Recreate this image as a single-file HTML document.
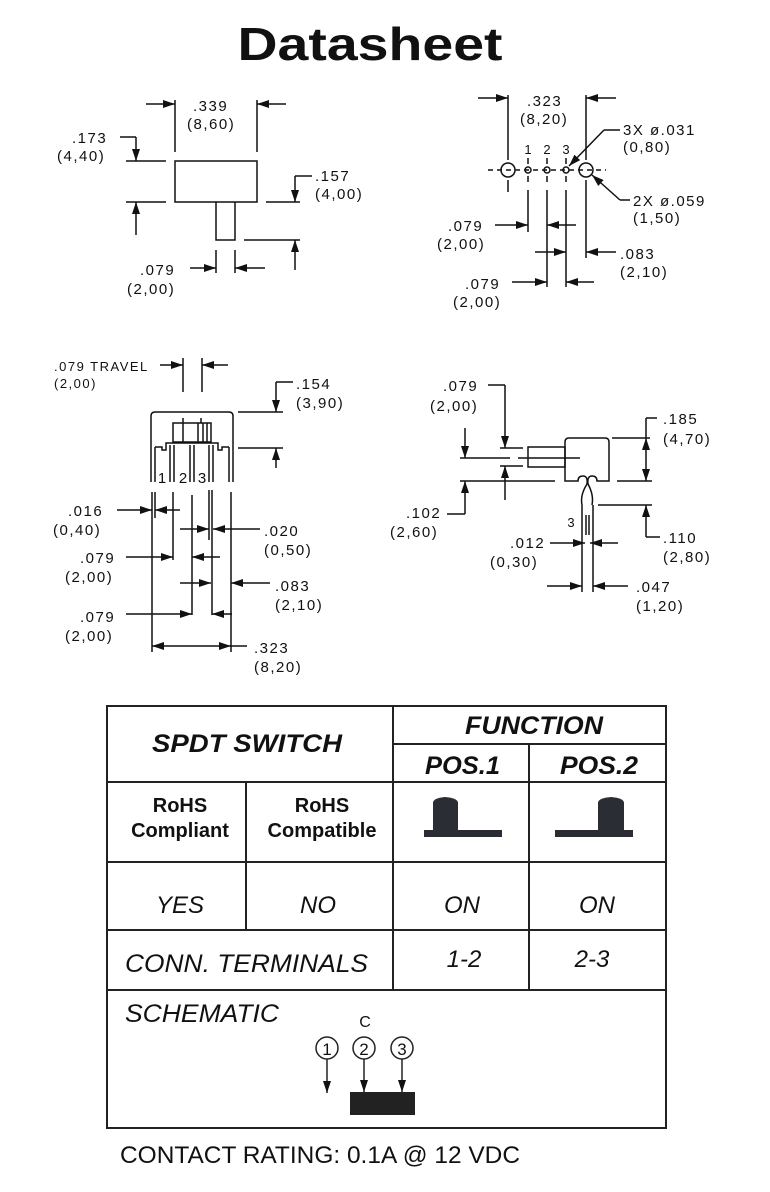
<!DOCTYPE html>
<html><head><meta charset="utf-8"><style>
html,body{margin:0;padding:0;background:#fff;}
svg{display:block;}
.d{font-family:"Liberation Sans",sans-serif;font-size:15px;letter-spacing:1.5px;fill:#111;}
.s{font-family:"Liberation Sans",sans-serif;font-size:13px;fill:#111;}
.t{font-family:"Liberation Sans",sans-serif;fill:#111;}
</style></head><body>
<svg width="770" height="1192" viewBox="0 0 770 1192" xmlns="http://www.w3.org/2000/svg">
<defs>
<marker id="a" markerWidth="12" markerHeight="8" refX="12" refY="4" orient="auto" markerUnits="userSpaceOnUse"><path d="M0,0 L12,4 L0,8z" fill="#111"/></marker>
</defs>
<text x="370" y="60" text-anchor="middle" class="t" font-weight="bold" font-size="46" textLength="265" lengthAdjust="spacingAndGlyphs">Datasheet</text>

<g stroke="#111" stroke-width="1.5" fill="none">
<rect x="175" y="161" width="82" height="41"/>
<path d="M216,202 V240 H235 V202"/>
<path d="M175,100 V152 M257,100 V152"/>
<line x1="146" y1="104" x2="175" y2="104" marker-end="url(#a)"/>
<line x1="286" y1="104" x2="257" y2="104" marker-end="url(#a)"/>
<path d="M126,161 H166 M126,202 H166"/>
<path d="M120,137 H136"/>
<line x1="136" y1="137" x2="136" y2="161" marker-end="url(#a)"/>
<line x1="136" y1="235" x2="136" y2="202" marker-end="url(#a)"/>
<path d="M266,202 H300 M244,240 H300 M312,176 H295"/>
<line x1="295" y1="176" x2="295" y2="202" marker-end="url(#a)"/>
<line x1="295" y1="270" x2="295" y2="240" marker-end="url(#a)"/>
<path d="M216,250 V273 M235,250 V273"/>
<line x1="190" y1="268" x2="216" y2="268" marker-end="url(#a)"/>
<line x1="265" y1="268" x2="235" y2="268" marker-end="url(#a)"/>

<path d="M508,95 V160 M586,95 V160 M508,180 V192 M586,180 V192"/>
<line x1="478" y1="98" x2="508" y2="98" marker-end="url(#a)"/>
<line x1="616" y1="98" x2="586" y2="98" marker-end="url(#a)"/>
<path d="M488,170 H606" stroke-dasharray="5,4"/>
<circle cx="508" cy="170" r="7"/><circle cx="586" cy="170" r="7"/>
<circle cx="528" cy="170" r="3"/><circle cx="547" cy="170" r="3"/><circle cx="566" cy="170" r="3"/>
<path d="M528,158 V164 M547,158 V164 M566,158 V164 M528,176 V182 M547,176 V182 M566,176 V182"/>
<path d="M620,130 H604"/>
<line x1="604" y1="130" x2="569" y2="166" marker-end="url(#a)"/>
<path d="M630,200 H620"/>
<line x1="620" y1="200" x2="592" y2="175" marker-end="url(#a)"/>
<path d="M528,190 V232 M547,190 V287 M566,190 V287 M586,192 V258"/>
<line x1="495" y1="225" x2="528" y2="225" marker-end="url(#a)"/>
<line x1="576" y1="225" x2="547" y2="225" marker-end="url(#a)"/>
<line x1="535" y1="252" x2="566" y2="252" marker-end="url(#a)"/>
<line x1="616" y1="252" x2="586" y2="252" marker-end="url(#a)"/>
<line x1="512" y1="282" x2="547" y2="282" marker-end="url(#a)"/>
<line x1="594" y1="282" x2="566" y2="282" marker-end="url(#a)"/>

<path d="M151,482 V416 Q151,412 155,412 H229 Q233,412 233,416 V482"/>
<path d="M155,482 V447 M229,482 V447"/>
<rect x="173" y="423" width="38" height="19"/>
<path d="M198,423 V442 M203,423 V442 M207,423 V442 M183,418 V442 M201,418 V423"/>
<path d="M155,447 H162 V450 H166 V443 H218 V450 H222 V447 H229"/>
<path d="M170,445 V482 M174,445 V482 M190,445 V482 M194,445 V482 M209,445 V482 M213,445 V482"/>
<path d="M183,358 V392 M202,358 V392"/>
<line x1="160" y1="365" x2="183" y2="365" marker-end="url(#a)"/>
<line x1="228" y1="365" x2="202" y2="365" marker-end="url(#a)"/>
<path d="M238,412 H283 M238,448 H283 M293,382 H276"/>
<line x1="276" y1="382" x2="276" y2="412" marker-end="url(#a)"/>
<line x1="276" y1="468" x2="276" y2="448" marker-end="url(#a)"/>
<path d="M152,492 V652 M155,492 V518 M173,492 V560 M192,495 V615 M209,490 V540 M212,490 V615 M231,492 V652"/>
<line x1="117" y1="510" x2="152" y2="510" marker-end="url(#a)"/>
<line x1="180" y1="510" x2="155" y2="510" marker-end="url(#a)"/>
<line x1="180" y1="529" x2="209" y2="529" marker-end="url(#a)"/>
<line x1="260" y1="529" x2="213" y2="529" marker-end="url(#a)"/>
<line x1="126" y1="557" x2="173" y2="557" marker-end="url(#a)"/>
<line x1="220" y1="557" x2="192" y2="557" marker-end="url(#a)"/>
<line x1="180" y1="583" x2="211" y2="583" marker-end="url(#a)"/>
<line x1="270" y1="583" x2="231" y2="583" marker-end="url(#a)"/>
<line x1="126" y1="614" x2="192" y2="614" marker-end="url(#a)"/>
<line x1="232" y1="614" x2="212" y2="614" marker-end="url(#a)"/>
<line x1="192" y1="646" x2="152" y2="646" marker-end="url(#a)"/>
<line x1="192" y1="646" x2="231" y2="646" marker-end="url(#a)"/>
<path d="M231,646 H247"/>

<path d="M569,438 H605 Q609,438 609,442 V481 H597 Q597,476 592,476 Q587,476 588,484 Q594,495 592,505 M565,442 Q565,438 569,438 M565,442 V481 H578 Q578,476 583,476 Q588,476 587,484 Q580,495 582,505"/>
<rect x="528" y="447" width="37" height="20"/>
<path d="M460,458 H510 M518,458 H580"/>
<path d="M582,505 V592 M593,505 V592 M586,515 V535 M589,515 V535"/>
<path d="M488,385 H505"/>
<line x1="505" y1="385" x2="505" y2="448" marker-end="url(#a)"/>
<line x1="505" y1="500" x2="505" y2="466" marker-end="url(#a)"/>
<path d="M500,448 H523 M500,466 H523 M460,481 H555"/>
<line x1="465" y1="428" x2="465" y2="458" marker-end="url(#a)"/>
<path d="M447,514 H465"/>
<line x1="465" y1="514" x2="465" y2="481" marker-end="url(#a)"/>
<path d="M612,438 H650 M617,481 H652 M646,418 H657 M598,505 H652 M646,537 H660"/>
<line x1="646" y1="460" x2="646" y2="438" marker-end="url(#a)"/>
<line x1="646" y1="460" x2="646" y2="481" marker-end="url(#a)"/>
<path d="M646,418 V438"/>
<line x1="646" y1="537" x2="646" y2="505" marker-end="url(#a)"/>
<line x1="550" y1="543" x2="585" y2="543" marker-end="url(#a)"/>
<line x1="618" y1="543" x2="590" y2="543" marker-end="url(#a)"/>
<line x1="547" y1="586" x2="582" y2="586" marker-end="url(#a)"/>
<line x1="628" y1="586" x2="593" y2="586" marker-end="url(#a)"/>
</g>

<g class="d">
<text x="193" y="111">.339</text><text x="187" y="129">(8,60)</text>
<text x="72" y="143">.173</text><text x="57" y="161">(4,40)</text>
<text x="315" y="181">.157</text><text x="315" y="199">(4,00)</text>
<text x="140" y="275">.079</text><text x="127" y="294">(2,00)</text>
<text x="527" y="106">.323</text><text x="520" y="124">(8,20)</text>
<text x="623" y="135">3X ø.031</text><text x="623" y="152">(0,80)</text>
<text x="633" y="206">2X ø.059</text><text x="633" y="223">(1,50)</text>
<text x="448" y="231">.079</text><text x="437" y="249">(2,00)</text>
<text x="620" y="259">.083</text><text x="620" y="277">(2,10)</text>
<text x="465" y="289">.079</text><text x="453" y="307">(2,00)</text>
<text x="54" y="371" style="font-size:13px">.079 TRAVEL</text><text x="54" y="388" style="font-size:13px">(2,00)</text>
<text x="296" y="389">.154</text><text x="296" y="408">(3,90)</text>
<text x="68" y="516">.016</text><text x="53" y="535">(0,40)</text>
<text x="264" y="536">.020</text><text x="264" y="555">(0,50)</text>
<text x="80" y="563">.079</text><text x="65" y="582">(2,00)</text>
<text x="275" y="591">.083</text><text x="275" y="610">(2,10)</text>
<text x="80" y="622">.079</text><text x="65" y="641">(2,00)</text>
<text x="254" y="653">.323</text><text x="254" y="672">(8,20)</text>
<text x="443" y="391">.079</text><text x="430" y="411">(2,00)</text>
<text x="663" y="424">.185</text><text x="663" y="444">(4,70)</text>
<text x="406" y="518">.102</text><text x="390" y="537">(2,60)</text>
<text x="663" y="543">.110</text><text x="663" y="562">(2,80)</text>
<text x="510" y="548">.012</text><text x="490" y="567">(0,30)</text>
<text x="636" y="592">.047</text><text x="636" y="611">(1,20)</text>
</g>
<g class="s" text-anchor="middle">
<text x="528" y="154">1</text><text x="547" y="154">2</text><text x="566" y="154">3</text>
<text x="162" y="483" font-size="15">1</text><text x="183" y="483" font-size="15">2</text><text x="202" y="483" font-size="15">3</text>
<text x="571" y="527">3</text>
</g>

<g stroke="#222" stroke-width="2" fill="none">
<rect x="107" y="706" width="559" height="422"/>
<path d="M393,706 V990 M246,782 V930 M529,744 V990 M393,744 H666 M107,782 H666 M107,862 H666 M107,930 H666 M107,990 H666"/>
</g>
<g class="t" font-weight="bold" font-style="italic" font-size="25">
<text x="152" y="752" textLength="190" lengthAdjust="spacingAndGlyphs">SPDT  SWITCH</text>
<text x="465" y="734" textLength="138" lengthAdjust="spacingAndGlyphs">FUNCTION</text>
<text x="425" y="774" textLength="75" lengthAdjust="spacingAndGlyphs">POS.1</text>
<text x="560" y="774" textLength="78" lengthAdjust="spacingAndGlyphs">POS.2</text>
</g>
<g class="t" font-weight="bold" text-anchor="middle" font-size="20">
<text x="180" y="812">RoHS</text><text x="180" y="837">Compliant</text>
<text x="322" y="812">RoHS</text><text x="322" y="837">Compatible</text>
</g>
<g class="t" font-style="italic" text-anchor="middle" font-size="24">
<text x="180" y="913">YES</text><text x="318" y="913">NO</text>
<text x="462" y="913">ON</text><text x="597" y="913">ON</text>
<text x="464" y="967">1-2</text><text x="592" y="967">2-3</text>
</g>
<g class="t" font-style="italic" font-size="25">
<text x="125" y="972" textLength="243" lengthAdjust="spacingAndGlyphs">CONN. TERMINALS</text>
<text x="125" y="1022" textLength="154" lengthAdjust="spacingAndGlyphs">SCHEMATIC</text>
</g>
<g fill="#2a2d33">
<path d="M433,832 V803 Q433,798 445,797 Q458,798 458,803 V830 H502 V837 H424 V830 H433z"/>
<path d="M598,830 V803 Q598,798 611,797 Q624,798 624,803 V832 V830 H633 V837 H555 V830z"/>
<rect x="350" y="1092" width="65" height="23" fill="#222"/>
</g>
<g stroke="#222" stroke-width="1.5" fill="none">
<circle cx="327" cy="1048" r="11"/><circle cx="364" cy="1048" r="11"/><circle cx="402" cy="1048" r="11"/>
<line x1="327" y1="1059" x2="327" y2="1093" marker-end="url(#a)"/>
<line x1="364" y1="1059" x2="364" y2="1092" marker-end="url(#a)"/>
<line x1="402" y1="1059" x2="402" y2="1092" marker-end="url(#a)"/>
</g>
<g class="t" text-anchor="middle" font-size="17">
<text x="327" y="1055">1</text><text x="364" y="1055">2</text><text x="402" y="1055">3</text>
<text x="365" y="1027" font-size="16">C</text>
</g>
<text x="120" y="1163" class="t" font-size="24" textLength="400" lengthAdjust="spacingAndGlyphs">CONTACT RATING: 0.1A @ 12 VDC</text>
</svg>
</body></html>
